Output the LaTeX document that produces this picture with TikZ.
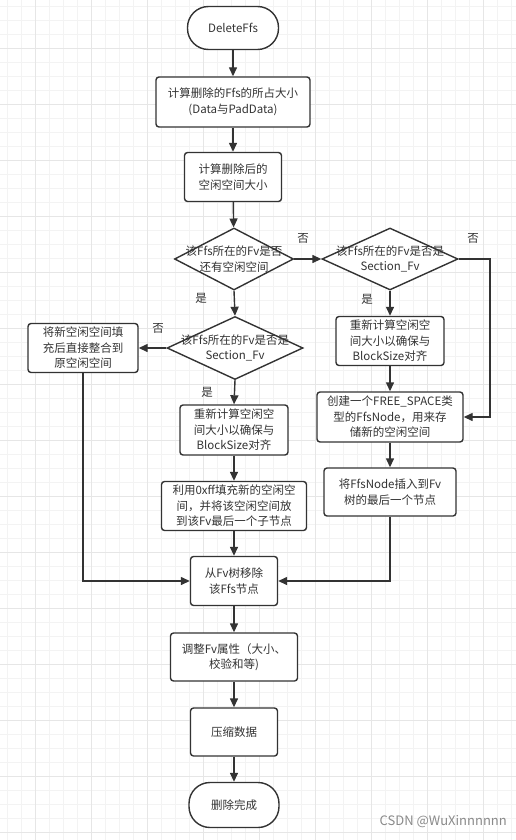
\documentclass[tikz,border=0pt]{standalone}
\usepackage{fontspec}
\setmainfont{Noto Sans CJK SC}
\usetikzlibrary{arrows.meta,shapes.geometric}
\definecolor{ink}{HTML}{333333}
\definecolor{gridminor}{HTML}{F3F3F3}
\definecolor{gridmajor}{HTML}{E6E6E6}
\definecolor{wm}{HTML}{8A8A8A}
\begin{document}
\begin{tikzpicture}[x=1pt,y=-1pt,
  font=\fontsize{11.5}{15.5}\selectfont,
  box/.style={draw=ink, line width=1.4pt, fill=white, rounded corners=3pt, align=center, inner sep=0pt, text=ink},
  term/.style={box, rounded corners=21pt},
  dia/.style={draw=ink, line width=1.4pt, fill=white, diamond, inner sep=0pt},
  dtext/.style={text=ink, align=center, inner sep=0pt},
  arr/.style={draw=ink, line width=1.4pt, -{Triangle[length=9pt,width=8pt]}},
  lbl/.style={text=ink, inner sep=0pt}]
\useasboundingbox (0,0) rectangle (516,840);
\fill[white] (0,0) rectangle (516,840);
% grid
\foreach \x in {7,21,...,511} \draw[gridminor, line width=0.8pt] (\x,0) -- (\x,840);
\foreach \y in {6,20,...,838} \draw[gridminor, line width=0.8pt] (0,\y) -- (516,\y);
\foreach \x in {35,91,...,511} \draw[gridmajor, line width=0.9pt] (\x,0) -- (\x,840);
\foreach \y in {48,104,...,838} \draw[gridmajor, line width=0.9pt] (0,\y) -- (516,\y);

% nodes
\node[term, minimum width=91pt, minimum height=43pt] (start) at (233,28) {DeleteFfs};
\node[box, minimum width=154pt, minimum height=50pt] (b1) at (233,102) {计算删除的Ffs的所占大小\\(Data与PadData)};
\node[box, minimum width=97pt, minimum height=49pt] (b2) at (233,177) {计算删除后的\\空闲空间大小};
\node[dia, minimum width=119pt, minimum height=62pt] (d1) at (234,259) {};
\node[dtext] (d1t) at (d1.center) {该Ffs所在的Fv是否\\还有空闲空间};
\node[dia, minimum width=136pt, minimum height=62pt] (d2) at (390,259) {};
\node[dtext] (d2t) at (d2.center) {该Ffs所在的Fv是否是\\Section\_Fv};
\node[dia, minimum width=136pt, minimum height=63pt] (d3) at (235,348) {};
\node[dtext] (d3t) at (d3.center) {该Ffs所在的Fv是否是\\Section\_Fv};
\node[box, minimum width=110pt, minimum height=49pt] (bL) at (83,348) {将新空闲空间填\\充后直接整合到\\原空闲空间};
\node[box, minimum width=108pt, minimum height=49pt] (bR1) at (390,341) {重新计算空闲空\\间大小以确保与\\BlockSize对齐};
\node[box, minimum width=146pt, minimum height=50pt] (bR2) at (390,417) {创建一个FREE\_SPACE类\\型的FfsNode，用来存\\储新的空闲空间};
\node[box, minimum width=132pt, minimum height=48pt] (bR3) at (390,492) {将FfsNode插入到Fv\\树的最后一个节点};
\node[box, minimum width=108pt, minimum height=50pt] (bM1) at (234,430) {重新计算空闲空\\间大小以确保与\\BlockSize对齐};
\node[box, minimum width=145pt, minimum height=49pt] (bM2) at (234,506) {利用0xff填充新的空闲空\\间，并将该空闲空间放\\到该Fv最后一个子节点};
\node[box, minimum width=87pt, minimum height=49pt] (bM3) at (234,581) {从Fv树移除\\该Ffs节点};
\node[box, minimum width=127pt, minimum height=48pt] (bM4) at (234,657) {调整Fv属性（大小、\\校验和等)};
\node[box, minimum width=87pt, minimum height=48pt] (bM5) at (234,732) {压缩数据};
\node[term, minimum width=90pt, minimum height=45pt] (end) at (234,805) {删除完成};

% labels
\node[lbl] (n1) at (303,238) {否};
\node[lbl] (n2) at (473,238) {否};
\node[lbl] (y1) at (201,298) {是};
\node[lbl] (y2) at (367,299) {是};
\node[lbl] (n3) at (158,328) {否};
\node[lbl] (y3) at (207,392) {是};

\coordinate (rc) at (490,259);

% connectors
\draw[arr] (start) -- (b1);
\draw[arr] (b1) -- (b2);
\draw[arr] (b2) -- (d1);
\draw[arr] (d1.east) -- (d2.west);
\draw[arr] (d1.south) -- (d3.north);
\draw[arr] (d3.west) -- (bL.east);
\draw[arr] (d3.south) -- (bM1.north);
\draw[arr] (bM1) -- (bM2);
\draw[arr] (bM2) -- (bM3);
\draw[arr] (bL.south) |- (bM3.west);
\draw[arr] (d2.south) -- (bR1.north);
\draw[arr] (bR1) -- (bR2);
\draw[arr] (d2.east) -- (rc) |- (bR2.east);
\draw[arr] (bR2) -- (bR3);
\draw[arr] (bR3.south) |- (bM3.east);
\draw[arr] (bM3) -- (bM4);
\draw[arr] (bM4) -- (bM5);
\draw[arr] (bM5) -- (end);

% watermark
\node[text=wm, anchor=east, inner sep=0pt, font=\fontsize{13}{15}\selectfont] (wmk) at (507,822) {CSDN @WuXinnnnnn};
\end{tikzpicture}
\end{document}
